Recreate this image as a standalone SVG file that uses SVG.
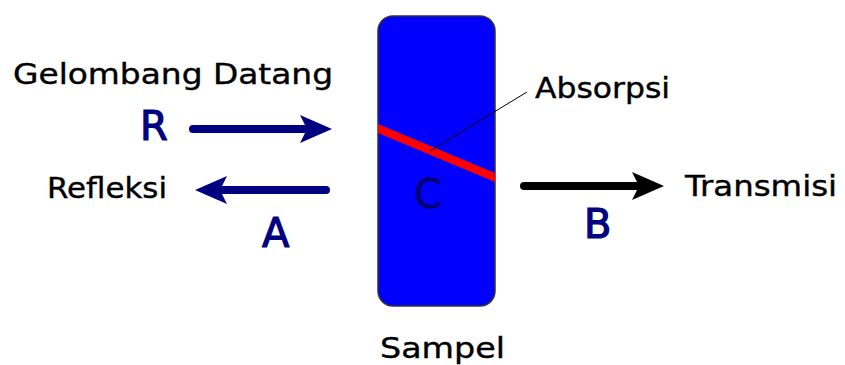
<svg xmlns="http://www.w3.org/2000/svg" width="845" height="365" viewBox="0 0 845 365">
<defs>
<style>
.lbl{font-family:"DejaVu Sans","Verdana",sans-serif;font-size:29px;fill:#000;stroke:#000;stroke-width:0.4}
.big{font-family:"DejaVu Sans","Verdana",sans-serif;font-size:40px;fill:#000080;stroke:#000080;stroke-width:1.2}
.arr{stroke-width:8;stroke-linecap:round;fill:none}
</style>
<marker id="hn" viewBox="0 0 32 28" refX="20" refY="14" markerWidth="32" markerHeight="28" markerUnits="userSpaceOnUse" orient="auto">
<path d="M0,0 L32,14 L0,28 L7,14 Z" fill="#000080"/>
</marker>
<marker id="hb" viewBox="0 0 32 28" refX="20" refY="14" markerWidth="32" markerHeight="28" markerUnits="userSpaceOnUse" orient="auto">
<path d="M0,0 L32,14 L0,28 L7,14 Z" fill="#000"/>
</marker>
</defs>
<rect width="845" height="365" fill="#fff"/>
<g id="sampel">
<rect x="378" y="16" width="117" height="290" rx="15" fill="#0000ff" stroke="#333" stroke-width="1.5"/>
<polygon points="378,124 495,173 495,182 378,133" fill="#ff0000"/>
<text class="big" x="414" y="208" style="fill:#000070;stroke:#000070;stroke-width:0.6">C</text>
<text class="lbl" x="380" y="358" textLength="125" lengthAdjust="spacingAndGlyphs">Sampel</text>
</g>
<g id="gelombang-datang">
<text class="lbl" x="13" y="84" textLength="320" lengthAdjust="spacingAndGlyphs">Gelombang Datang</text>
<text class="big" x="140" y="140">R</text>
</g>
<g id="refleksi">
<text class="lbl" x="47" y="198" textLength="120" lengthAdjust="spacingAndGlyphs">Refleksi</text>
<text class="big" x="262" y="247">A</text>
</g>
<g id="transmisi">
<text class="lbl" x="685" y="196" textLength="152" lengthAdjust="spacingAndGlyphs">Transmisi</text>
<text class="big" x="584" y="238">B</text>
</g>
<g id="absorpsi">
<text class="lbl" x="535" y="98" textLength="135" lengthAdjust="spacingAndGlyphs">Absorpsi</text>
</g>
<g id="connectors">
<line class="arr" x1="193" y1="129" x2="320" y2="129" stroke="#000080" marker-end="url(#hn)"/>
<line class="arr" x1="326" y1="190" x2="207" y2="190" stroke="#000080" marker-end="url(#hn)"/>
<line class="arr" x1="524" y1="186" x2="652" y2="186" stroke="#000" marker-end="url(#hb)"/>
<line x1="430" y1="151" x2="527" y2="92" stroke="#000" stroke-width="1"/>
</g>
</svg>
